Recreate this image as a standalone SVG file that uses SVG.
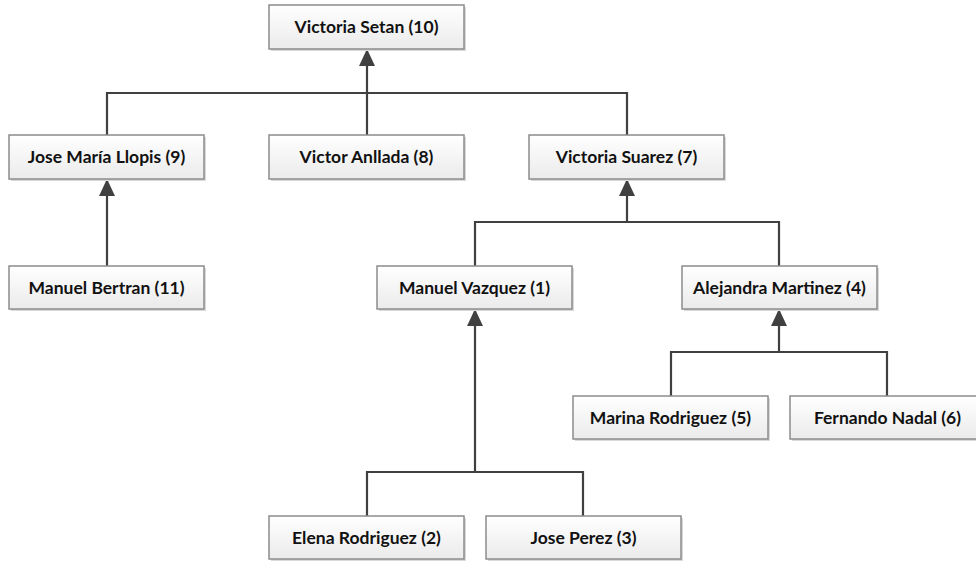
<svg xmlns="http://www.w3.org/2000/svg" width="976" height="561" viewBox="0 0 976 561">
<defs>
<linearGradient id="g" x1="0" y1="0" x2="0" y2="1">
<stop offset="0" stop-color="#ffffff"/>
<stop offset="1" stop-color="#ebebeb"/>
</linearGradient>
<marker id="arr" markerUnits="userSpaceOnUse" markerWidth="18" markerHeight="18" viewBox="0 0 18 18" refX="17" refY="9" orient="auto">
<path d="M0,1 L17,9 L0,17 Z" fill="#404040"/>
</marker>
</defs>
<style>
.sh{fill:#d9d9d9;}
.bx{fill:url(#g);stroke:#8c8c8c;stroke-width:1.5;}
.t{font-family:Lato,"Liberation Sans",sans-serif;font-weight:bold;font-size:17.5px;fill:#111111;text-anchor:middle;}
.c{fill:none;stroke:#404040;stroke-width:2.2;}
.a{fill:none;stroke:#404040;stroke-width:2.2;marker-end:url(#arr);}
</style>
<rect width="976" height="561" fill="#ffffff"/>
<g id="connectors">
<path class="c" d="M107,135 V93 H627 V135"/>
<path class="a" d="M367,135 V49"/>
<path class="a" d="M107,266 V179"/>
<path class="c" d="M475,266 V222 H779 V266"/>
<path class="a" d="M627,222 V179"/>
<path class="c" d="M367,516 V472 H583 V516"/>
<path class="a" d="M475,472 V309"/>
<path class="c" d="M671,396 V352 H887 V396"/>
<path class="a" d="M779,352 V309"/>
</g>
<g id="n10"><rect class="sh" x="271" y="7" width="195" height="44"/><rect class="bx" x="269" y="5" width="195" height="44"/><text class="t" x="366.5" y="33">Victoria Setan (10)</text></g>
<g id="n9"><rect class="sh" x="11" y="137" width="195" height="44"/><rect class="bx" x="9" y="135" width="195" height="44"/><text class="t" x="106.5" y="163">Jose María Llopis (9)</text></g>
<g id="n8"><rect class="sh" x="271" y="137" width="195" height="44"/><rect class="bx" x="269" y="135" width="195" height="44"/><text class="t" x="366.5" y="163">Victor Anllada (8)</text></g>
<g id="n7"><rect class="sh" x="531" y="137" width="195" height="44"/><rect class="bx" x="529" y="135" width="195" height="44"/><text class="t" x="626.5" y="163">Victoria Suarez (7)</text></g>
<g id="n11"><rect class="sh" x="11" y="268" width="195" height="43"/><rect class="bx" x="9" y="266" width="195" height="43"/><text class="t" x="106.5" y="294">Manuel Bertran (11)</text></g>
<g id="n1"><rect class="sh" x="379" y="268" width="195" height="43"/><rect class="bx" x="377" y="266" width="195" height="43"/><text class="t" x="474.5" y="294">Manuel Vazquez (1)</text></g>
<g id="n4"><rect class="sh" x="684" y="268" width="195" height="43"/><rect class="bx" x="682" y="266" width="195" height="43"/><text class="t" x="779.5" y="294">Alejandra Martinez (4)</text></g>
<g id="n5"><rect class="sh" x="575" y="398" width="195" height="43"/><rect class="bx" x="573" y="396" width="195" height="43"/><text class="t" x="670.5" y="424">Marina Rodriguez (5)</text></g>
<g id="n6"><rect class="sh" x="792" y="398" width="195" height="43"/><rect class="bx" x="790" y="396" width="195" height="43"/><text class="t" x="887.5" y="424">Fernando Nadal (6)</text></g>
<g id="n2"><rect class="sh" x="271" y="518" width="195" height="43"/><rect class="bx" x="269" y="516" width="195" height="43"/><text class="t" x="366.5" y="544">Elena Rodriguez (2)</text></g>
<g id="n3"><rect class="sh" x="488" y="518" width="195" height="43"/><rect class="bx" x="486" y="516" width="195" height="43"/><text class="t" x="583.5" y="544">Jose Perez (3)</text></g>
</svg>
